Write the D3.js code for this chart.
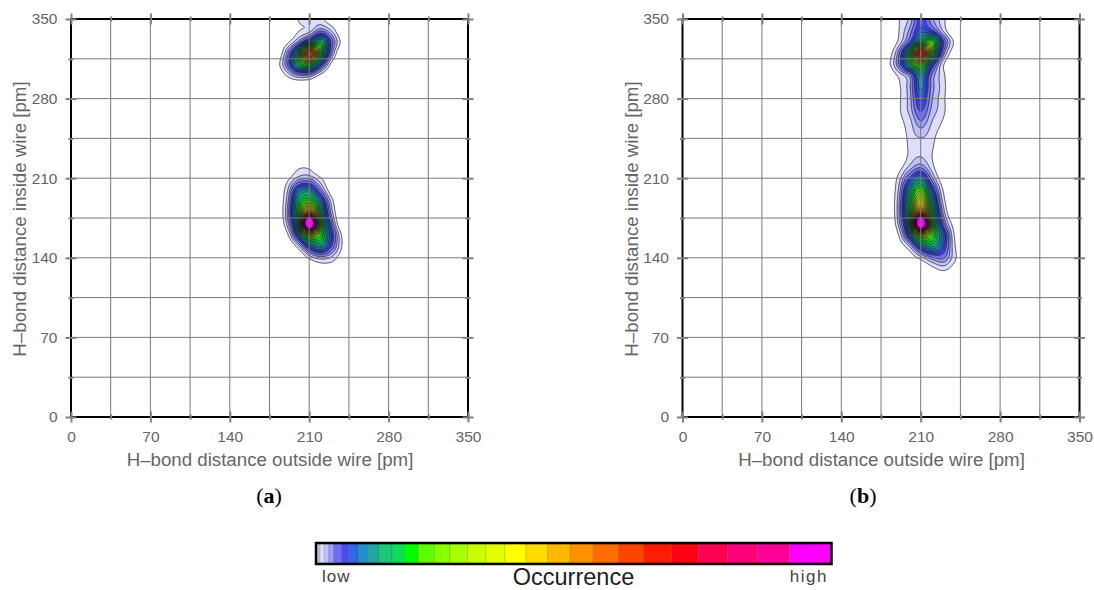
<!DOCTYPE html>
<html>
<head>
<meta charset="utf-8">
<script src="https://cdnjs.cloudflare.com/ajax/libs/d3/7.8.5/d3.min.js"></script>
<style>
  body { margin: 0; background: #fff; }
  text { font-family: "Liberation Sans", Arial, sans-serif; }
</style>
</head>
<body>
<div id="chart"></div>
<script>
// tick labels
var majorTicks = [0, 70, 140, 210, 280, 350];
var minorTicks = [35, 105, 175, 245, 315];

// occurrence, per mille of the key (the peak spills over the top band)
var gridX = [170, 180, 190, 200, 210, 220, 230, 240, 250];
var gridY = [350, 340, 330, 320, 310, 300, 290, 280, 270, 260, 250, 240, 230, 220, 210, 200, 190, 180, 170, 160, 150, 140, 130, 120];

var occurrenceA = [
  [0, 0, 0, 6, 10, 8, 1, 0, 0],
  [0, 0, 0, 5, 10, 30, 12, 0, 0],
  [0, 0, 3, 25, 90, 150, 40, 2, 0],
  [0, 0, 22, 150, 640, 220, 25, 0, 0],
  [0, 1, 30, 140, 220, 70, 3, 0, 0],
  [0, 0, 6, 20, 20, 3, 0, 0, 0],
  [0, 0, 0, 0, 0, 0, 0, 0, 0],
  [0, 0, 0, 0, 0, 0, 0, 0, 0],
  [0, 0, 0, 0, 0, 0, 0, 0, 0],
  [0, 0, 0, 0, 0, 0, 0, 0, 0],
  [0, 0, 0, 0, 0, 0, 0, 0, 0],
  [0, 0, 0, 0, 0, 0, 0, 0, 0],
  [0, 0, 0, 0, 0, 0, 0, 0, 0],
  [0, 0, 0, 4, 4, 0, 0, 0, 0],
  [0, 0, 3, 17, 21, 7, 0, 0, 0],
  [0, 0, 10, 75, 100, 30, 1, 0, 0],
  [0, 0, 15, 130, 210, 95, 9, 0, 0],
  [0, 0, 19, 175, 540, 170, 17, 0, 0],
  [0, 0, 14, 170, 1250, 240, 35, 0, 0],
  [0, 0, 3, 75, 320, 200, 60, 3, 0],
  [0, 0, 0, 10, 75, 115, 45, 4, 0],
  [0, 0, 0, 0, 8, 18, 12, 1, 0],
  [0, 0, 0, 0, 0, 1, 1, 0, 0],
  [0, 0, 0, 0, 0, 0, 0, 0, 0]
];

var occurrenceB = [
  [0, 0, 5, 16, 55, 25, 8, 0, 0],
  [0, 0, 5, 25, 70, 50, 12, 0, 0],
  [0, 0, 7, 45, 150, 200, 50, 4, 0],
  [0, 1, 25, 170, 680, 230, 30, 1, 0],
  [0, 2, 30, 130, 260, 70, 7, 0, 0],
  [0, 0, 7, 25, 105, 30, 8, 0, 0],
  [0, 0, 4, 20, 85, 28, 9, 0, 0],
  [0, 0, 4, 18, 68, 24, 8, 0, 0],
  [0, 0, 4, 17, 50, 20, 8, 0, 0],
  [0, 0, 3, 11, 32, 14, 5, 0, 0],
  [0, 0, 1, 9, 18, 10, 2, 0, 0],
  [0, 0, 0, 8, 11, 8, 0, 0, 0],
  [0, 0, 0, 8, 13, 6, 0, 0, 0],
  [0, 0, 2, 16, 30, 9, 0, 0, 0],
  [0, 0, 8, 50, 100, 25, 1, 0, 0],
  [0, 0, 13, 105, 210, 70, 5, 0, 0],
  [0, 0, 17, 150, 360, 125, 10, 0, 0],
  [0, 0, 18, 170, 600, 180, 20, 0, 0],
  [0, 0, 14, 165, 1250, 250, 40, 2, 0],
  [0, 0, 5, 80, 330, 210, 80, 5, 0],
  [0, 0, 1, 14, 85, 125, 65, 7, 0],
  [0, 0, 0, 1, 10, 30, 35, 8, 0],
  [0, 0, 0, 0, 0, 3, 8, 2, 0],
  [0, 0, 0, 0, 0, 0, 0, 0, 0]
];

// band edges of the colour key, same unit as the occurrence tables
var levels = [0, 6, 14, 23, 33, 48, 63, 80, 100, 121, 146, 170, 197, 229, 259, 293, 329, 366, 407, 449, 493, 538, 587, 637, 690, 743, 799, 858, 920, 1000];
var bandColors = ['#c6c6d6', '#dedefb', '#c0c0f8', '#9c9cf6', '#6e6ef2', '#4a4aee', '#2f68e6', '#2290c8', '#20a8a0', '#1cc878', '#10dc58', '#00ff00', '#5cff00', '#88ff00', '#a8ff00', '#c8ff00', '#e4ff00', '#ffff00', '#ffdc00', '#ffb800', '#ff9000', '#ff6c00', '#ff4400', '#ff1c00', '#ff0014', '#ff0050', '#ff0078', '#ff0098', '#ff00ff'];

var xTitle = 'H\u2013bond distance outside wire [pm]';
var yTitle = 'H\u2013bond distance inside wire [pm]';

var width = 1094, height = 590;
var svg = d3.select('#chart').append('svg')
  .attr('width', width)
  .attr('height', height)
  .style('display', 'block');

// bicubic refinement of the coarse table so d3.contours gets a smooth field
function refine(table, factor) {
  var rows = table.length, cols = table[0].length;
  var root = table.map(function (r) { return r.map(Math.sqrt); });
  var n = (cols - 1) * factor + 1, m = (rows - 1) * factor + 1;
  var out = new Float64Array(n * m);
  function at(j, i) {
    return root[Math.max(0, Math.min(rows - 1, j))][Math.max(0, Math.min(cols - 1, i))];
  }
  function cubic(a, b, c, d, t) {
    return b + 0.5 * t * (c - a + t * (2 * a - 5 * b + 4 * c - d + t * (3 * (b - c) + d - a)));
  }
  for (var j = 0; j < m; j++) {
    var j0 = Math.floor(j / factor), v = j / factor - j0;
    for (var i = 0; i < n; i++) {
      var i0 = Math.floor(i / factor), u = i / factor - i0;
      var col = [-1, 0, 1, 2].map(function (dj) {
        return cubic(at(j0 + dj, i0 - 1), at(j0 + dj, i0), at(j0 + dj, i0 + 1), at(j0 + dj, i0 + 2), u);
      });
      var s = Math.max(0, cubic(col[0], col[1], col[2], col[3], v));
      out[j * n + i] = s * s;
    }
  }
  return { values: out, n: n, m: m };
}

function drawPanel(left, table, id) {
  var x = d3.scaleLinear().domain([0, 350]).range([left, left + 397]);
  var y = d3.scaleLinear().domain([0, 350]).range([417, 19]);
  var g = svg.append('g');

  g.append('clipPath').attr('id', id)
    .append('rect')
    .attr('x', x(0)).attr('y', y(350))
    .attr('width', x(350) - x(0)).attr('height', y(0) - y(350));

  // filled contours, one per key band
  var factor = 20;
  var field = refine(table, factor);
  var thresholds = levels.slice(1, -1);
  var contours = d3.contours().size([field.n, field.m]).thresholds(thresholds)(field.values);
  var stepX = (gridX[1] - gridX[0]) / factor, stepY = (gridY[1] - gridY[0]) / factor;
  var path = d3.geoPath(d3.geoTransform({
    point: function (px, py) {
      this.stream.point(x(gridX[0] + (px - 0.5) * stepX), y(gridY[0] + (py - 0.5) * stepY));
    }
  }));

  var plot = g.append('g').attr('clip-path', 'url(#' + id + ')');
  plot.selectAll('path.band')
    .data(contours)
    .enter().append('path')
    .attr('class', 'band')
    .attr('d', path)
    .attr('fill', function (d, i) { return bandColors[i + 1]; })
    .attr('stroke', '#14142a')
    .attr('stroke-width', 0.75);

  // the original has more lines than key bands in the core, that is what darkens it
  var extra = d3.range(5, levels.length - 3).map(function (i) { return (levels[i] + levels[i + 1]) / 2; });
  var lines = d3.contours().size([field.n, field.m]).thresholds(extra)(field.values);
  plot.selectAll('path.extra')
    .data(lines)
    .enter().append('path')
    .attr('class', 'extra')
    .attr('d', path)
    .attr('fill', 'none')
    .attr('stroke', '#14142a')
    .attr('stroke-width', 0.3);

  // grid on top of the contours
  var gridTicks = majorTicks.concat(minorTicks).filter(function (t) { return t > 0 && t < 350; });
  g.append('g').selectAll('line').data(gridTicks).enter().append('line')
    .attr('x1', function (d) { return x(d); }).attr('x2', function (d) { return x(d); })
    .attr('y1', y(0)).attr('y2', y(350))
    .attr('stroke', '#7a7a7a').attr('stroke-width', 1);
  g.append('g').selectAll('line').data(gridTicks).enter().append('line')
    .attr('y1', function (d) { return y(d); }).attr('y2', function (d) { return y(d); })
    .attr('x1', x(0)).attr('x2', x(350))
    .attr('stroke', '#7a7a7a').attr('stroke-width', 1);

  // frame
  g.append('rect')
    .attr('x', x(0)).attr('y', y(350))
    .attr('width', x(350) - x(0)).attr('height', y(0) - y(350))
    .attr('fill', 'none').attr('stroke', '#000').attr('stroke-width', 2);

  // ticks cross the frame on all four sides
  function ticks(axis, values, size, transform, labels) {
    var a = g.append('g').attr('transform', transform)
      .call(axis.tickValues(values).tickSize(size).tickPadding(8)
        .tickFormat(labels ? d3.format('d') : ''));
    a.select('.domain').remove();
    a.selectAll('line').attr('stroke', '#808080').attr('stroke-width', 2);
    a.selectAll('line').each(function () {
      var l = d3.select(this);
      if (l.attr('y2') !== null && +l.attr('y2') !== 0) l.attr('y1', -l.attr('y2'));
      if (l.attr('x2') !== null && +l.attr('x2') !== 0) l.attr('x1', -l.attr('x2'));
    });
    a.selectAll('text').attr('fill', '#666').style('font-size', '15.5px')
      .style('font-family', '"Liberation Sans", Arial, sans-serif');
  }
  var bottom = 'translate(0,' + y(0) + ')', top = 'translate(0,' + y(350) + ')';
  var lft = 'translate(' + x(0) + ',0)', right = 'translate(' + x(350) + ',0)';
  ticks(d3.axisBottom(x), majorTicks, 5.5, bottom, true);
  ticks(d3.axisLeft(y), majorTicks, 5.5, lft, true);
  ticks(d3.axisTop(x), majorTicks, 5.5, top, false);
  ticks(d3.axisRight(y), majorTicks, 5.5, right, false);
  ticks(d3.axisBottom(x), minorTicks, 2.5, bottom, false);
  ticks(d3.axisLeft(y), minorTicks, 2.5, lft, false);
  ticks(d3.axisTop(x), minorTicks, 2.5, top, false);
  ticks(d3.axisRight(y), minorTicks, 2.5, right, false);

  g.append('text')
    .attr('x', (x(0) + x(350)) / 2 + 0.5).attr('y', 466)
    .attr('text-anchor', 'middle').attr('fill', '#666')
    .style('font-size', '18.7px').text(xTitle);
  g.append('text')
    .attr('transform', 'translate(' + (left - 45) + ',' + 219 + ') rotate(-90)')
    .attr('text-anchor', 'middle').attr('fill', '#666')
    .style('font-size', '18.7px').text(yTitle);
}

function caption(cx, letter) {
  var t = svg.append('text')
    .attr('x', cx).attr('y', 503)
    .attr('text-anchor', 'middle').attr('fill', '#000')
    .style('font-family', '"Liberation Serif", serif')
    .style('font-size', '22px');
  t.append('tspan').text('(');
  t.append('tspan').style('font-weight', 'bold').text(letter);
  t.append('tspan').text(')');
}

drawPanel(71, occurrenceA, 'clip-a');
drawPanel(682.5, occurrenceB, 'clip-b');
caption(269, 'a');
caption(863, 'b');

// colour key
var key = d3.scaleLinear().domain([0, 1000]).range([317, 830.5]);
svg.append('g').selectAll('rect')
  .data(bandColors)
  .enter().append('rect')
  .attr('x', function (d, i) { return key(levels[i]); })
  .attr('y', 544)
  .attr('width', function (d, i) { return key(levels[i + 1]) - key(levels[i]); })
  .attr('height', 19)
  .attr('fill', function (d) { return d; })
  .attr('stroke', 'rgba(0,0,0,0.18)')
  .attr('stroke-width', 0.7);
svg.append('rect')
  .attr('x', key(0) - 1).attr('y', 543)
  .attr('width', key(1000) - key(0) + 2).attr('height', 21)
  .attr('fill', 'none').attr('stroke', '#000').attr('stroke-width', 2.5);

svg.append('text').attr('x', 322).attr('y', 582).attr('fill', '#444')
  .style('font-size', '17px').style('letter-spacing', '1px').text('low');
svg.append('text').attr('x', 828).attr('y', 582).attr('fill', '#444')
  .attr('text-anchor', 'end')
  .style('font-size', '17px').style('letter-spacing', '1.5px').text('high');
svg.append('text').attr('x', 573.5).attr('y', 585).attr('fill', '#222')
  .attr('text-anchor', 'middle')
  .style('font-size', '23.5px').text('Occurrence');
</script>
</body>
</html>
